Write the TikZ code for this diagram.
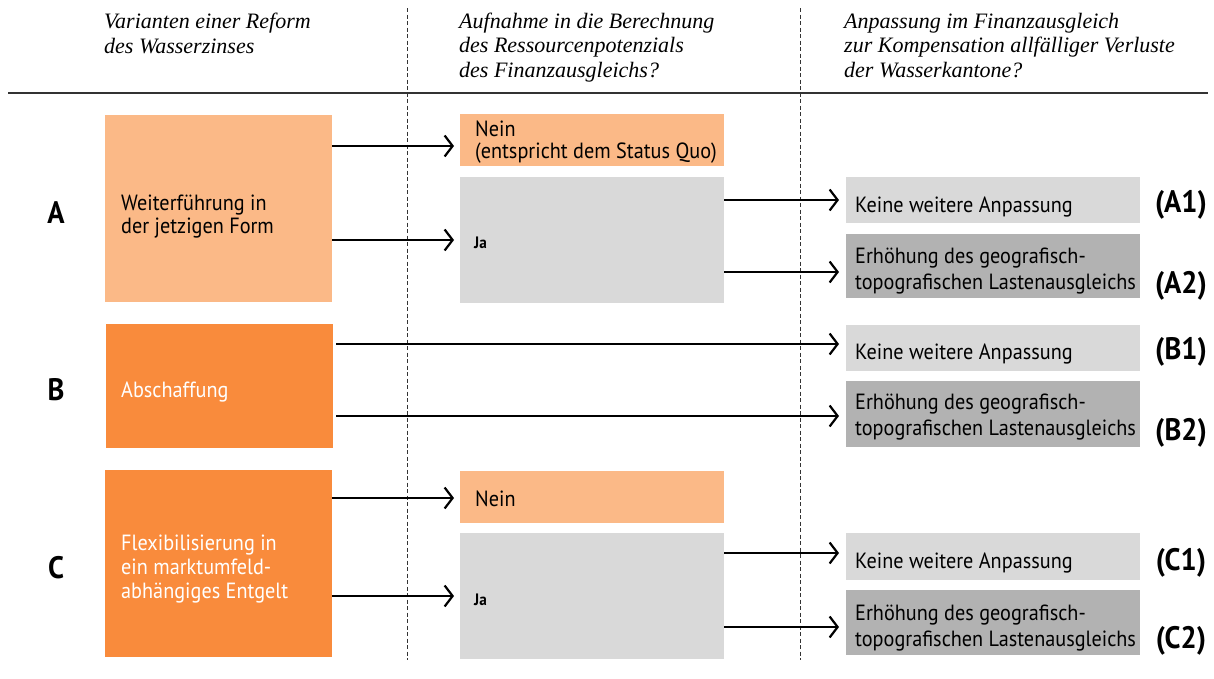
\documentclass[tikz,border=0pt]{standalone}
\usepackage{fontspec}
\newfontfamily\dinfont[FakeStretch=0.92]{PT Sans}
\newfontfamily\hdrfont{Liberation Serif}
\usetikzlibrary{arrows.meta}
\definecolor{lorange}{HTML}{FBB987}
\definecolor{dorange}{HTML}{F98B3C}
\definecolor{lgray}{HTML}{D9D9D9}
\definecolor{dgray}{HTML}{B2B2B2}
\definecolor{rule}{HTML}{333333}
\begin{document}
\begin{tikzpicture}[x=1pt,y=-1pt,
  panel/.style={anchor=north west, inner sep=0, outer sep=0, draw=none},
  txt/.style={anchor=base west, inner sep=0, align=left, font=\dinfont\fontsize{22}{23}\selectfont},
  txtE/.style={txt, font=\dinfont\fontsize{22}{26}\selectfont},
  smalltxt/.style={anchor=base west, inner sep=0, font=\dinfont\bfseries\fontsize{16.5}{17}\selectfont},
  hdr/.style={anchor=base west, inner sep=0, align=left, font=\hdrfont\itshape\fontsize{22}{24.5}\selectfont},
  lbl/.style={inner sep=0, font=\dinfont\bfseries\fontsize{31}{32}\selectfont},
  arr/.style={-{Straight Barb[length=8pt,width=21pt,line width=2.2pt]}, line width=2.2pt},
  sep/.style={rule, line width=0.8pt, dash pattern=on 4pt off 2.5pt}
]
\useasboundingbox (0,0) rectangle (1214,678);
% headers (anchor = baseline of last line)
\node[hdr] (h1) at (104,53) {Varianten einer Reform\\des Wasserzinses};
\node[hdr] (h2) at (459,77) {Aufnahme in die Berechnung\\des Ressourcenpotenzials\\des Finanzausgleichs?};
\node[hdr] (h3) at (844,77) {Anpassung im Finanzausgleich\\zur Kompensation allfälliger Verluste\\der Wasserkantone?};
\coordinate (r1) at (8,93);
\coordinate (r2) at (1208,93);
\draw[rule, line width=1.2pt] (r1) -- (r2);
\coordinate (d1t) at (407,8);
\coordinate (d1b) at (407,660);
\coordinate (d2t) at (800,8);
\coordinate (d2b) at (800,660);
\draw[sep] (d1t) -- (d1b);
\draw[sep] (d2t) -- (d2b);

% ---- A ----
\node[panel, fill=lorange, minimum width=227, minimum height=187] (A) at (105,115) {};
\node[txt] (At) at (121,233) {Weiterführung in\\der jetzigen Form};
\node[panel, fill=lorange, minimum width=264, minimum height=52] (AN) at (460,114) {};
\node[txt, font=\dinfont\fontsize{22}{22}\selectfont] (ANt) at (475,158) {Nein\\(entspricht dem Status Quo)};
\node[panel, fill=lgray, minimum width=264, minimum height=126] (AJ) at (460,177) {};
\node[smalltxt] (AJt) at (474,248) {Ja};
\node[panel, fill=lgray, minimum width=294, minimum height=46] (A1) at (846,177) {};
\node[txt] (A1t) at (855,212) {Keine weitere Anpassung};
\node[panel, fill=dgray, minimum width=294, minimum height=64] (A2) at (846,234) {};
\node[txtE] (A2t) at (855,289) {Erhöhung des geografisch-\\topografischen Lastenausgleichs};
\node[lbl] (La) at (56,213) {A};
\node[lbl] (La1) at (1181,205) {(A1)};
\node[lbl] (La2) at (1181,286) {(A2)};
\coordinate (ya) at (0,146);
\coordinate (yb) at (0,240);
\coordinate (yc) at (0,200);
\coordinate (yd) at (0,272);
\draw[arr, shorten >=6pt] (A.east |- ya) -- (AN.west |- ya);
\draw[arr, shorten >=6pt] (A.east |- yb) -- (AJ.west |- yb);
\draw[arr, shorten >=7pt] (AJ.east |- yc) -- (A1.west |- yc);
\draw[arr, shorten >=7pt] (AJ.east |- yd) -- (A2.west |- yd);

% ---- B ----
\node[panel, fill=dorange, minimum width=227, minimum height=124] (B) at (106,324) {};
\node[txt, text=white] (Bt) at (121,397) {Abschaffung};
\node[panel, fill=lgray, minimum width=294, minimum height=46] (B1) at (846,325) {};
\node[txt] (B1t) at (855,359) {Keine weitere Anpassung};
\node[panel, fill=dgray, minimum width=294, minimum height=66] (B2) at (846,381) {};
\node[txtE] (B2t) at (855,435) {Erhöhung des geografisch-\\topografischen Lastenausgleichs};
\node[lbl] (Lb) at (56,390) {B};
\node[lbl] (Lb1) at (1181,352) {(B1)};
\node[lbl] (Lb2) at (1181,433) {(B2)};
\coordinate (ye) at (0,344);
\coordinate (yf) at (0,416);
\draw[arr, shorten >=7pt, shorten <=3pt] (B.east |- ye) -- (B1.west |- ye);
\draw[arr, shorten >=7pt, shorten <=3pt] (B.east |- yf) -- (B2.west |- yf);

% ---- C ----
\node[panel, fill=dorange, minimum width=227, minimum height=187] (C) at (105,470) {};
\node[txt, text=white, font=\dinfont\fontsize{22}{24}\selectfont] (Ct) at (121,598) {Flexibilisierung in\\ein marktumfeld-\\abhängiges Entgelt};
\node[panel, fill=lorange, minimum width=264, minimum height=52] (CN) at (460,471) {};
\node[txt] (CNt) at (475,506) {Nein};
\node[panel, fill=lgray, minimum width=264, minimum height=126] (CJ) at (460,533) {};
\node[smalltxt] (CJt) at (474,605) {Ja};
\node[panel, fill=lgray, minimum width=294, minimum height=47] (C1) at (846,533) {};
\node[txt] (C1t) at (855,568) {Keine weitere Anpassung};
\node[panel, fill=dgray, minimum width=294, minimum height=65] (C2) at (846,590) {};
\node[txtE] (C2t) at (855,646) {Erhöhung des geografisch-\\topografischen Lastenausgleichs};
\node[lbl] (Lc) at (56,568) {C};
\node[lbl] (Lc1) at (1181,563) {(C1)};
\node[lbl] (Lc2) at (1181,641) {(C2)};
\coordinate (yg) at (0,498);
\coordinate (yh) at (0,596);
\coordinate (yi) at (0,553);
\coordinate (yj) at (0,627);
\draw[arr, shorten >=6pt] (C.east |- yg) -- (CN.west |- yg);
\draw[arr, shorten >=6pt] (C.east |- yh) -- (CJ.west |- yh);
\draw[arr, shorten >=7pt] (CJ.east |- yi) -- (C1.west |- yi);
\draw[arr, shorten >=7pt] (CJ.east |- yj) -- (C2.west |- yj);
\end{tikzpicture}
\end{document}
